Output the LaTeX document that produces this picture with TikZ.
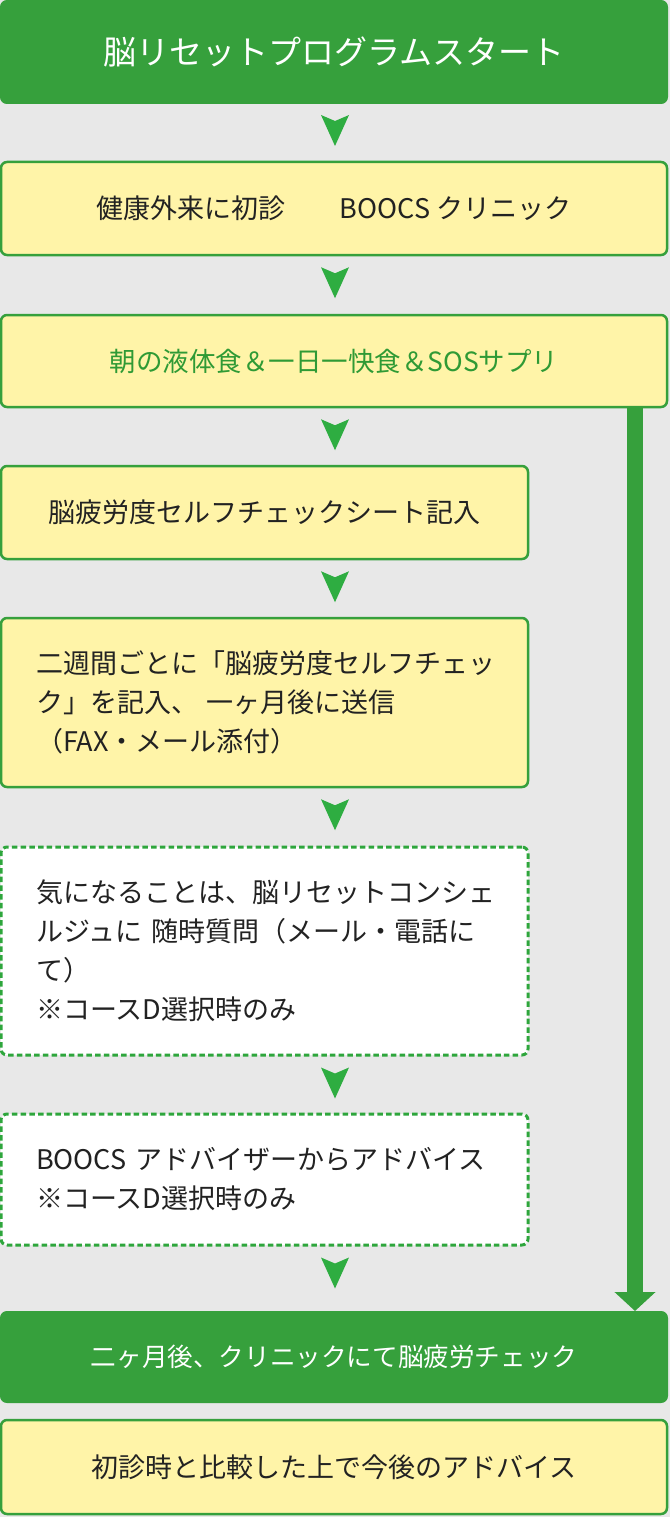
\documentclass[tikz,border=0pt]{standalone}
\usepackage{fontspec}
\setmainfont{Noto Sans CJK JP}
\usetikzlibrary{calc,arrows.meta}
\definecolor{G}{HTML}{36A03C}
\definecolor{AG}{HTML}{2EAD41}
\definecolor{DG}{HTML}{2EA63C}
\definecolor{Y}{HTML}{FFF4A8}
\definecolor{BG}{HTML}{E8E8E8}
\definecolor{TX}{HTML}{222222}
\definecolor{GT}{HTML}{2F9A35}
\tikzset{
  gbox/.style={fill=G, draw=G, line width=2pt, rounded corners=6pt, text=white, inner sep=0pt},
  ybox/.style={fill=Y, draw=G, line width=2.5pt, rounded corners=6pt, text=TX, inner sep=0pt},
  dbox/.style={fill=white, draw=DG, line width=3pt, dash pattern=on 5.5pt off 3.2pt, rounded corners=6pt, text=TX, inner sep=0pt},
  lefttext/.style={align=left, text width=457pt, inner xsep=35pt},
  txt/.style={font=\fontsize{27}{39}\selectfont},
  darr/.pic={\fill[AG] (-14,0) -- (0,6) -- (14,0) -- (0,31) -- cycle;}
}
\begin{document}
\begin{tikzpicture}[x=1pt,y=-1pt]
\fill[BG] (0,0) rectangle (670,1517);
\useasboundingbox (0,0) rectangle (670,1517);
\coordinate (ax) at (335,0);
\coordinate (bx) at (635,0);

\node[gbox, minimum width=666pt, minimum height=102pt, font=\fontsize{33}{40}\selectfont] (b1) at (334,52) {脳リセットプログラムスタート};
\node[ybox, txt, minimum width=666pt, minimum height=93pt] (b2) at (334,208.5) {健康外来に初診　　BOOCS クリニック};
\node[ybox, minimum width=666pt, minimum height=92pt, text=GT, font=\fontsize{26.5}{39}\selectfont] (b3) at (334,361) {朝の液体食＆一日一快食＆SOSサプリ};
\node[ybox, txt, minimum width=527pt, minimum height=93pt] (b4) at (264.5,512.5) {脳疲労度セルフチェックシート記入};
\node[ybox, txt, lefttext, minimum height=169pt] (b5) at (264.5,702.5) {二週間ごとに「脳疲労度セルフチェッ\\ク」を記入、 一ヶ月後に送信\\（FAX・メール添付）};
\node[dbox, txt, lefttext, minimum height=208pt] (b6) at (264.5,951) {気になることは、脳リセットコンシェ\\ルジュに 随時質問（メール・電話に\\て）\\※コースD選択時のみ};
\node[dbox, txt, lefttext, minimum height=131pt] (b7) at (264.5,1179.5) {BOOCS アドバイザーからアドバイス\\※コースD選択時のみ};
\node[gbox, minimum width=666pt, minimum height=90pt, font=\fontsize{25.6}{39}\selectfont] (b8) at (334,1357) {二ヶ月後、クリニックにて脳疲労チェック};
\node[ybox, txt, minimum width=666pt, minimum height=94pt] (b9) at (334,1467) {初診時と比較した上で今後のアドバイス};

\foreach \b in {b1,b2,b3,b4,b5,b6,b7}
  \pic at ($(\b.south -| ax)+(0,11)$) {darr};

\draw[G, line width=16pt, -{Triangle[width=40pt,length=19pt]}] (b3.south -| bx) -- (b8.north -| bx);
\end{tikzpicture}
\end{document}
